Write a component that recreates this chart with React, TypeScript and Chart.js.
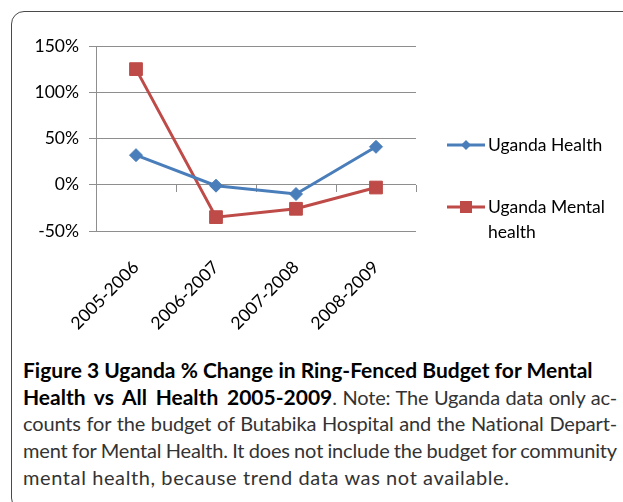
import React, { useEffect, useRef } from "react";
import { Chart, registerables } from "chart.js";

Chart.register(...registerables);

const categories = ["2005-2006", "2006-2007", "2007-2008", "2008-2009"];
const ugandaHealth = [32, -1, -10, 41];
const ugandaMentalHealth = [125, -35, -26, -3];
const seriesLabels = ["Uganda Health", "Uganda Mental\nhealth"];
const yMin = -50;
const yMax = 150;
const yStep = 50;

const BLUE = "#4a7ebb";
const RED = "#be4b48";
const GRID = "#8e8e8e";
const CHART_FONT = "Lato, 'Open Sans', sans-serif";

const overlayPlugin = {
  id: "overlay",
  beforeDatasetsDraw(chart: any) {
    const { ctx } = chart;
    const xs = chart.scales.x;
    const ys = chart.scales.y;
    const y0 = ys.getPixelForValue(0);
    ctx.save();
    ctx.strokeStyle = GRID;
    ctx.lineWidth = 1;
    ctx.beginPath();
    for (let i = 1; i <= categories.length; i++) {
      const x = Math.round(xs.getPixelForValue(i - 0.5)) + 0.5;
      ctx.moveTo(x, Math.round(y0));
      ctx.lineTo(x, Math.round(y0) + 7);
    }
    ctx.stroke();
    ctx.restore();
  },
  afterDraw(chart: any) {
    const { ctx } = chart;
    const rows = [145, 207];
    ctx.save();
    chart.data.datasets.forEach((ds: any, i: number) => {
      const y = rows[i];
      ctx.strokeStyle = ds.borderColor;
      ctx.lineWidth = 3;
      ctx.beginPath();
      ctx.moveTo(447, y);
      ctx.lineTo(485, y);
      ctx.stroke();
      ctx.fillStyle = ds.borderColor;
      ctx.beginPath();
      if (ds.pointStyle === "rectRot") {
        const r = 5;
        ctx.moveTo(466 - r, y);
        ctx.lineTo(466, y - r);
        ctx.lineTo(466 + r, y);
        ctx.lineTo(466, y + r);
        ctx.closePath();
      } else {
        ctx.rect(466 - 6, y - 6, 12, 12);
      }
      ctx.fill();
      ctx.fillStyle = "#000";
      ctx.font = `17.5px ${CHART_FONT}`;
      ctx.textBaseline = "middle";
      ctx.textAlign = "left";
      String(ds.label)
        .split("\n")
        .forEach((line: string, k: number) => {
          ctx.fillText(line, 488, y + k * 25);
        });
    });
    ctx.restore();
  },
};

export default function App() {
  const ref = useRef<HTMLCanvasElement | null>(null);

  useEffect(() => {
    if (!ref.current) return;
    const chart = new Chart(ref.current, {
      type: "line",
      data: {
        labels: categories,
        datasets: [
          {
            label: seriesLabels[0],
            data: ugandaHealth,
            borderColor: BLUE,
            backgroundColor: BLUE,
            borderWidth: 3,
            pointStyle: "rectRot",
            pointRadius: 6.5,
            pointBorderWidth: 1,
            pointBackgroundColor: BLUE,
            pointBorderColor: BLUE,
            tension: 0,
          },
          {
            label: seriesLabels[1],
            data: ugandaMentalHealth,
            borderColor: RED,
            backgroundColor: RED,
            borderWidth: 3,
            pointStyle: "rect",
            pointRadius: 9,
            pointBorderWidth: 1,
            pointBackgroundColor: RED,
            pointBorderColor: RED,
            tension: 0,
          },
        ],
      },
      options: {
        animation: false,
        responsive: false,
        devicePixelRatio: 1,
        layout: { padding: { left: 0, right: 207, top: 46, bottom: 0 } },
        plugins: {
          legend: { display: false },
          tooltip: { enabled: false },
        },
        scales: {
          x: {
            type: "category",
            offset: true,
            grid: { display: false },
            border: { display: false },
            ticks: {
              autoSkip: false,
              minRotation: 45,
              maxRotation: 45,
              padding: 18,
              color: "#000",
              font: { family: CHART_FONT, size: 17.5 },
            },
            afterFit: (s: any) => {
              s.height = 109;
            },
          },
          y: {
            min: yMin,
            max: yMax,
            ticks: {
              stepSize: yStep,
              padding: 10,
              color: "#000",
              font: { family: CHART_FONT, size: 17.5 },
              callback: (v: any) => `${v}%`,
            },
            grid: { color: GRID, lineWidth: 1, tickLength: 7, drawTicks: true },
            border: { display: true, color: GRID, width: 1 },
            afterFit: (s: any) => {
              s.width = 96;
            },
          },
        },
      },
      plugins: [overlayPlugin],
    });
    return () => chart.destroy();
  }, []);

  const capBase: React.CSSProperties = {
    position: "absolute",
    left: 23,
    width: 594,
    fontFamily: "Lato, 'Open Sans', sans-serif",
    fontSize: 20,
    lineHeight: "27px",
    color: "#333",
    whiteSpace: "nowrap",
  };
  const just: React.CSSProperties = {
    textAlign: "justify",
    textAlignLast: "justify",
    whiteSpace: "normal",
    wordSpacing: "-3px",
    letterSpacing: "-0.15px",
  };
  const bold: React.CSSProperties = { fontWeight: 700, color: "#000", fontSize: 21, letterSpacing: 0, wordSpacing: 0 };

  return (
    <div
      style={{
        position: "absolute",
        left: 0,
        top: 0,
        width: 623,
        height: 502,
        overflow: "hidden",
        background: "#fff",
      }}
    >
      <div
        style={{
          position: "absolute",
          left: 11,
          top: 11,
          width: 660,
          height: 500,
          border: "1.5px solid #4a4a4a",
          borderRadius: 13,
          boxSizing: "border-box",
        }}
      />
      <canvas
        ref={ref}
        width={623}
        height={340}
        style={{ position: "absolute", left: 0, top: 0, width: 623, height: 340 }}
      />
      <div style={{ ...capBase, top: 356 }}>
        <span style={bold}>Figure 3 Uganda % Change in Ring-Fenced Budget for Mental</span>
      </div>
      <div style={{ ...capBase, ...just, top: 383 }}>
        <span style={bold}>Health vs All Health 2005-2009</span>. Note: The Uganda data only ac-
      </div>
      <div style={{ ...capBase, ...just, top: 410 }}>
        counts for the budget of Butabika Hospital and the National Depart-
      </div>
      <div style={{ ...capBase, ...just, top: 437 }}>
        ment for Mental Health. It does not include the budget for community
      </div>
      <div style={{ ...capBase, top: 464, letterSpacing: "0.6px" }}>
        mental health, because trend data was not available.
      </div>
    </div>
  );
}
